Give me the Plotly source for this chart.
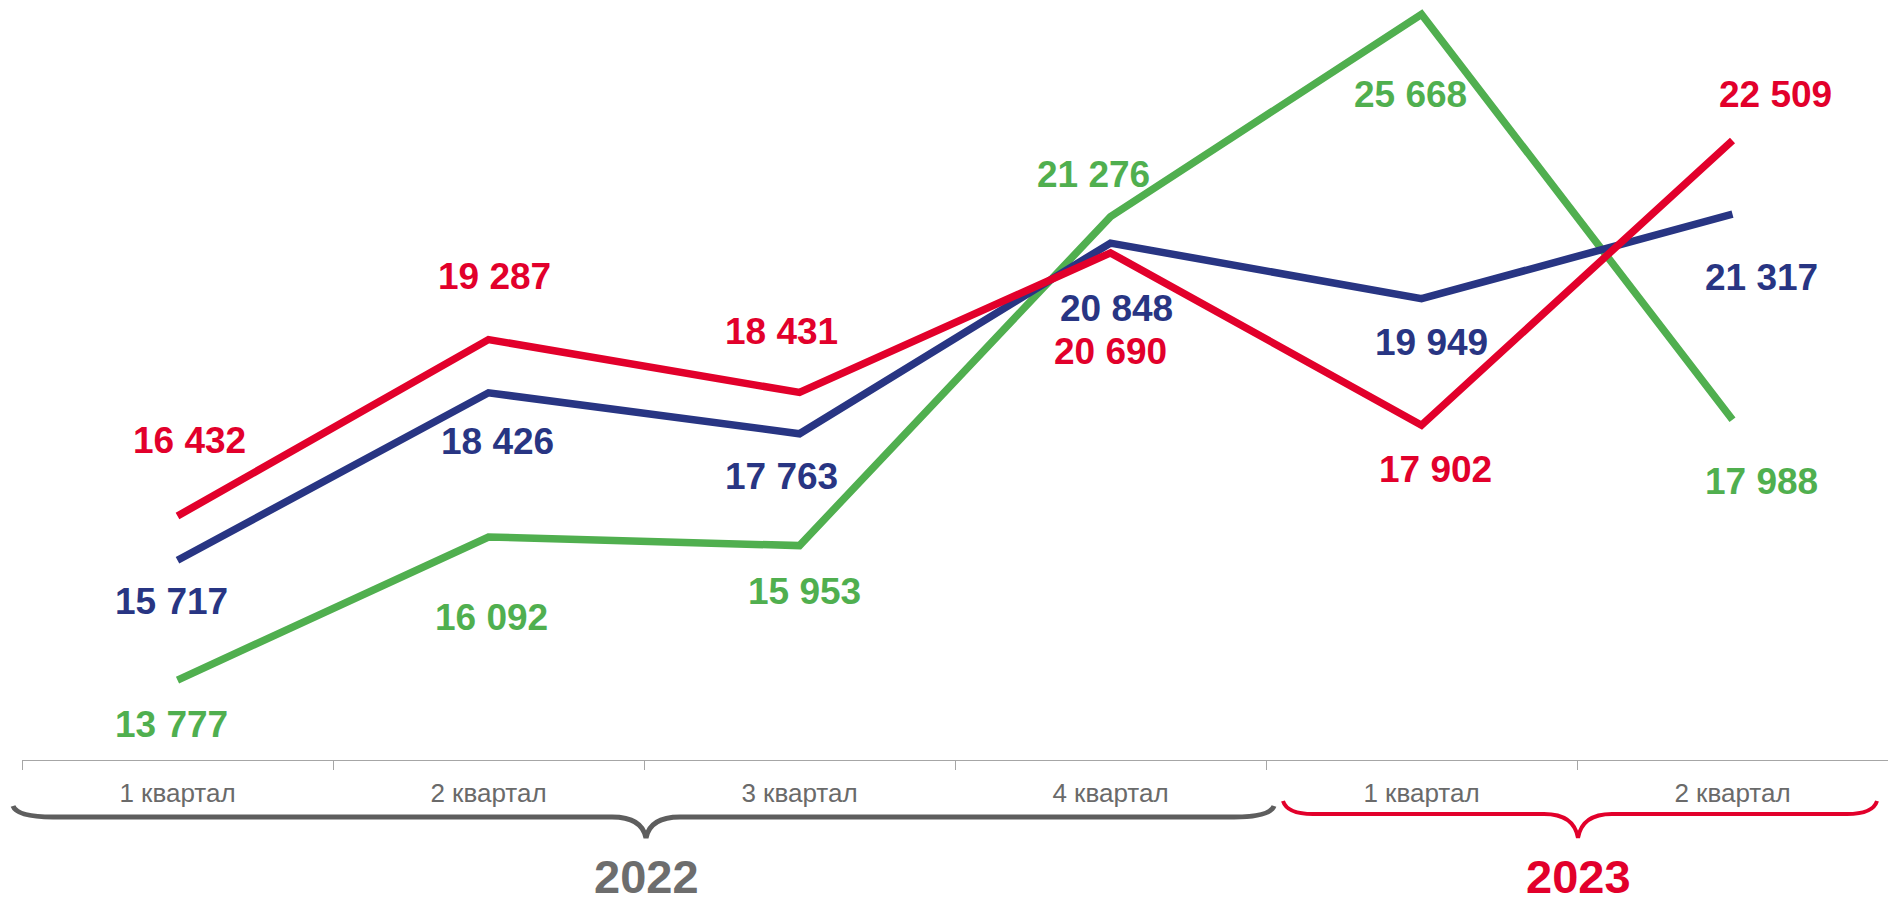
import plotly.graph_objects as go

# ---------------- data ----------------
quarters = ["1 квартал", "2 квартал", "3 квартал", "4 квартал", "1 квартал ", "2 квартал "]
tick_text = ["1 квартал", "2 квартал", "3 квартал", "4 квартал", "1 квартал", "2 квартал"]
red_values = [16432, 19287, 18431, 20690, 17902, 22509]
blue_values = [15717, 18426, 17763, 20848, 19949, 21317]
green_values = [13777, 16092, 15953, 21276, 25668, 17988]
years = ["2022", "2023"]

# values above this are drawn at the top edge of the plot (as in the source chart)
y_display_cap = 24550

# ---------------- styles / layout ----------------
OFF = 8                      # page body margin
W, H = 1888, 895
ML, MR, MT, MB = 14, 8, 0, 143
PW, PH = W - ML - MR, H - MT - MB

RED = "#E2002B"
BLUE = "#283583"
GREEN = "#50AF4F"
GREY_BRACE = "#5E5E5E"
GREY_TEXT = "#6A6A6A"
YEAR_GREY = "#6D6D6D"
AXIS = "#A6A6A6"
ORANGE = "#F6B81E"

LABEL_FONT = "Liberation Sans, Arial, sans-serif"

# label offsets (px) relative to their point: (dx, dy up)
red_off = [(12, 76), (6, 63), (-18, 61), (0, -99), (14, -44), (43, 46)]
blue_off = [(-6, -41), (9, -49), (-18, -43), (6, -65), (10, -44), (29, -63)]
green_off = [(-6, -44), (3, -80), (5, -46), (-17, 42), (-11, -80), (29, -62)]


def fmt(v):
    return f"{v:,}".replace(",", " ")


fig = go.Figure()
series = [
    (green_values, GREEN, green_off),
    (blue_values, BLUE, blue_off),
    (red_values, RED, red_off),
]
annotations = []
for vals, col, offs in series:
    shown = [min(v, y_display_cap) for v in vals]
    fig.add_trace(go.Scatter(
        x=quarters, y=shown, mode="lines",
        line=dict(color=col, width=7.5), hoverinfo="skip", showlegend=False,
        cliponaxis=False,
    ))
    for q, v, s, (dx, dy) in zip(quarters, vals, shown, offs):
        annotations.append(dict(
            x=q, y=s, xref="x", yref="y", text=fmt(v), showarrow=False,
            xshift=dx, yshift=dy, xanchor="center", yanchor="middle",
            font=dict(family=LABEL_FONT, size=37, color=col, weight="bold"),
        ))


def px(x, y):
    """page pixel -> paper fraction"""
    fx, fy = x - OFF, y - OFF
    return (fx - ML) / PW, (H - MB - fy) / PH


def path(points_cmds):
    out = []
    for cmd, pts in points_cmds:
        coords = []
        for (x, y) in pts:
            a, b = px(x, y)
            coords.append(f"{a:.5f},{b:.5f}")
        out.append(cmd + " " + " ".join(coords))
    return " ".join(out)


def brace(x0, x1, xc, y_end, y_line, y_tip, r):
    return path([
        ("M", [(x0, y_end)]),
        ("Q", [(x0 + 4, y_line), (x0 + r, y_line)]),
        ("L", [(xc - 34, y_line)]),
        ("Q", [(xc - 4, y_line), (xc, y_tip)]),
        ("Q", [(xc + 4, y_line), (xc + 34, y_line)]),
        ("L", [(x1 - r, y_line)]),
        ("Q", [(x1 - 4, y_line), (x1, y_end)]),
    ])


shapes = [
    dict(type="path", xref="paper", yref="paper",
         path=brace(13, 1274, 646, 806, 817, 838, 40),
         line=dict(color=GREY_BRACE, width=5)),
    dict(type="path", xref="paper", yref="paper",
         path=brace(1283, 1877, 1578, 801, 814, 838, 30),
         line=dict(color=RED, width=4)),
]
oa, ob = px(1894, 783)
oc, od = px(1894, 887)
shapes.append(dict(type="line", xref="paper", yref="paper", x0=oa, y0=ob, x1=oc, y1=od,
                   line=dict(color=ORANGE, width=3)))

for yr, cx, col in zip(years, [646, 1578], [YEAR_GREY, RED]):
    a, b = px(cx, 876)
    annotations.append(dict(
        x=a, y=b, xref="paper", yref="paper", text=yr, showarrow=False,
        xanchor="center", yanchor="middle",
        font=dict(family=LABEL_FONT, size=47, color=col, weight="bold"),
    ))

# y range so that the plot area (page y 8..760) maps like the reference
fig.update_layout(
    width=W, height=H,
    margin=dict(l=ML, r=MR, t=MT, b=MB),
    paper_bgcolor="white", plot_bgcolor="white",
    annotations=annotations, shapes=shapes,
    xaxis=dict(
        type="category", range=[-0.5, 5.5],
        tickmode="array", tickvals=quarters, ticktext=tick_text,
        tickson="boundaries", ticks="outside", ticklen=9, tickcolor=AXIS, tickwidth=1,
        showline=True, linecolor=AXIS, linewidth=1, showgrid=False, zeroline=False,
        tickfont=dict(family=LABEL_FONT, size=26, color=GREY_TEXT),
        ticklabelstandoff=10,
    ),
    yaxis=dict(range=[12484, 24652], visible=False, showgrid=False, zeroline=False),
)

fig.write_html("out.html")
